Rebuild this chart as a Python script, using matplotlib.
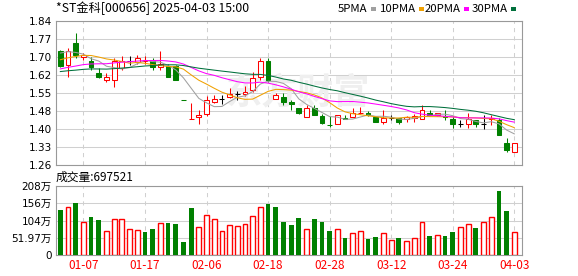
import numpy as np
import pandas as pd
import matplotlib
matplotlib.use("Agg")
import matplotlib.pyplot as plt
from matplotlib.patches import Rectangle

plt.rcParams["font.family"] = ["DejaVu Sans", "Noto Sans CJK SC"]

# trading days shown (2025)
dates = [
    "01-02", "01-03", "01-06", "01-07", "01-08", "01-09", "01-10", "01-13", "01-14", "01-15",
    "01-16", "01-17", "01-20", "01-21", "01-22", "01-23", "01-24", "01-27", "02-05", "02-06",
    "02-07", "02-10", "02-11", "02-12", "02-13", "02-14", "02-17", "02-18", "02-19", "02-20",
    "02-21", "02-24", "02-25", "02-26", "02-27", "02-28", "03-03", "03-04", "03-05", "03-06",
    "03-07", "03-10", "03-11", "03-12", "03-13", "03-14", "03-17", "03-18", "03-19", "03-20",
    "03-21", "03-24", "03-25", "03-26", "03-27", "03-28", "03-31", "04-01", "04-02", "04-03",
]
opens = [
    1.720, 1.663, 1.753, 1.697, 1.680, 1.632, 1.601, 1.602, 1.651, 1.679,
    1.674, 1.678, 1.678, 1.656, 1.657, 1.657, 1.522, 1.445, 1.453, 1.465,
    1.512, 1.525, 1.534, 1.546, 1.546, 1.561, 1.614, 1.677, 1.526, 1.532,
    1.512, 1.491, 1.453, 1.490, 1.457, 1.423, 1.425, 1.449, 1.453, 1.468,
    1.470, 1.452, 1.433, 1.449, 1.448, 1.445, 1.448, 1.445, 1.470, 1.461,
    1.457, 1.447, 1.425, 1.425, 1.443, 1.426, 1.444, 1.443, 1.348, 1.312,
]
highs = [
    1.724, 1.731, 1.792, 1.712, 1.694, 1.651, 1.630, 1.691, 1.700, 1.700,
    1.702, 1.700, 1.691, 1.720, 1.668, 1.664, 1.522, 1.511, 1.483, 1.536,
    1.543, 1.540, 1.571, 1.557, 1.580, 1.633, 1.691, 1.691, 1.550, 1.550,
    1.523, 1.491, 1.500, 1.502, 1.465, 1.456, 1.460, 1.460, 1.490, 1.495,
    1.476, 1.452, 1.483, 1.460, 1.448, 1.456, 1.465, 1.503, 1.483, 1.470,
    1.483, 1.456, 1.443, 1.469, 1.443, 1.463, 1.463, 1.449, 1.370, 1.348,
]
lows = [
    1.653, 1.614, 1.691, 1.683, 1.644, 1.612, 1.593, 1.573, 1.641, 1.661,
    1.667, 1.667, 1.644, 1.641, 1.613, 1.601, 1.521, 1.445, 1.425, 1.456,
    1.510, 1.505, 1.530, 1.523, 1.537, 1.553, 1.601, 1.596, 1.526, 1.503,
    1.483, 1.464, 1.453, 1.463, 1.425, 1.413, 1.425, 1.444, 1.453, 1.465,
    1.456, 1.433, 1.425, 1.440, 1.425, 1.432, 1.432, 1.445, 1.461, 1.457,
    1.443, 1.411, 1.413, 1.411, 1.413, 1.405, 1.421, 1.382, 1.312, 1.312,
]
closes = [
    1.660, 1.718, 1.704, 1.705, 1.653, 1.613, 1.614, 1.677, 1.678, 1.679,
    1.691, 1.682, 1.653, 1.667, 1.613, 1.601, 1.521, 1.446, 1.461, 1.523,
    1.524, 1.525, 1.545, 1.546, 1.553, 1.610, 1.677, 1.601, 1.542, 1.513,
    1.504, 1.471, 1.491, 1.463, 1.429, 1.421, 1.460, 1.447, 1.468, 1.471,
    1.461, 1.433, 1.449, 1.449, 1.434, 1.452, 1.456, 1.483, 1.461, 1.469,
    1.455, 1.425, 1.425, 1.447, 1.425, 1.426, 1.449, 1.382, 1.322, 1.348,
]
# volume, 万股
volumes = [
    135.6, 144.6, 156.7, 99.4, 114.5, 105.5, 72.3, 108.5, 108.5, 77.4,
    75.3, 69.3, 78.3, 96.4, 96.4, 93.4, 39.2, 141.6, 84.4, 120.5,
    107.5, 72.3, 90.4, 87.4, 93.4, 117.5, 144.6, 153.7, 144.6, 99.4,
    90.4, 111.5, 78.3, 108.5, 99.4, 72.3, 78.3, 51.2, 66.3, 72.3,
    48.2, 54.2, 66.3, 45.2, 51.2, 42.2, 51.2, 99.4, 57.2, 60.3,
    57.2, 69.3, 84.4, 93.4, 81.3, 99.4, 114.5, 192.8, 132.6, 69.7521,
]
# closes of the 29 sessions before 01-02, needed for the moving averages
prior_closes = [
    1.62, 1.63, 1.61, 1.60, 1.62, 1.63, 1.62, 1.61, 1.60, 1.61,
    1.59, 1.60, 1.59, 1.60, 1.60, 1.61, 1.61, 1.62, 1.64, 1.64,
    1.64, 1.65, 1.66, 1.66, 1.675, 1.69, 1.72, 1.74, 1.745,
]
ma_windows = [5, 10, 20, 30]
ma_names = ["5PMA", "10PMA", "20PMA", "30PMA"]
ma_colors = ["#a0a0a0", "#f0a000", "#ff00ff", "#00703c"]

price_ticks = np.linspace(1.26, 1.84, 9)
price_labels = ["1.26", "1.33", "1.40", "1.48", "1.55", "1.62", "1.70", "1.77", "1.84"]
vol_ticks = np.linspace(0, 207.88, 5)
vol_labels = ["0", "51.97万", "104万", "156万", "208万"]

RED = "#ff0000"
GREEN = "#008000"
GRID = "#d0d0d0"
FRAME = "#999999"

o = np.array(opens)
h = np.array(highs)
l = np.array(lows)
c = np.array(closes)
v = np.array(volumes)
x = np.arange(len(c))
up = c > o
down = c < o
flat = c == o
prev_c = np.concatenate([[prior_closes[-1]], c[:-1]])
vol_up = c >= prev_c

W, H = 578, 276
fig = plt.figure(figsize=(W / 100, H / 100), dpi=100)
ax = fig.add_axes([56 / W, 1 - 165 / H, 466 / W, 144 / H])
ax2 = fig.add_axes([56 / W, 1 - 255 / H, 466 / W, 69 / H])

# candles
wick_colors = np.where(up, RED, np.where(down, GREEN, "black"))
ax.vlines(x, l, h, colors=wick_colors, lw=0.75, zorder=3)
ax.bar(x[up], (c - o)[up], bottom=o[up], width=0.62, facecolor="white",
       edgecolor=RED, lw=0.75, zorder=4)
ax.bar(x[down], (o - c)[down], bottom=c[down], width=0.62, facecolor=GREEN,
       edgecolor=GREEN, lw=0.75, zorder=4)
ax.hlines(c[flat], x[flat] - 0.32, x[flat] + 0.32, colors="black", lw=0.75, zorder=4)

# moving averages
all_c = pd.Series(prior_closes + closes)
for w, col in zip(ma_windows, ma_colors):
    ma = all_c.rolling(w).mean().iloc[len(prior_closes):].to_numpy()
    ax.plot(x, ma, color=col, lw=0.75, zorder=5)

# watermark
ax.text(0.52, 0.5, "东方财富", transform=ax.transAxes, fontsize=26, color="#efefef",
        ha="center", va="center", weight="bold", family=["Noto Sans CJK SC"], zorder=1)

# volume
ax2.bar(x[vol_up], v[vol_up], width=0.62, facecolor="white", edgecolor=RED, lw=1.0, zorder=3)
ax2.bar(x[~vol_up], v[~vol_up], width=0.62, color=GREEN, lw=0, zorder=3)

for a in (ax, ax2):
    a.set_xlim(-0.56, 60.0)
    a.set_xticks(x[3::8])
    a.set_axisbelow(True)
    a.xaxis.grid(True, color=GRID, lw=0.75, ls=(0, (4, 4)))
    a.yaxis.grid(True, color=GRID, lw=0.75)
    a.tick_params(length=0, labelsize=7.5, pad=3)
    for s in a.spines.values():
        s.set_color(FRAME)
        s.set_linewidth(0.8)

ax.set_ylim(1.26, 1.84)
ax.set_yticks(price_ticks)
ax.set_yticklabels(price_labels)
ax.tick_params(axis="x", labelbottom=False)

ax2.set_ylim(0, 207.88)
ax2.set_yticks(vol_ticks)
ax2.set_yticklabels(vol_labels)
ax2.set_xticklabels(dates[3::8], color=RED, family=["Noto Sans CJK SC"], fontsize=8.5)

# header texts
fig.text(56 / W, 1 - 8 / H, "*ST金科[000656] 2025-04-03 15:00", fontsize=8.8,
         va="center", ha="left", family=["Noto Sans CJK SC", "DejaVu Sans"])
fig.text(56 / W, 1 - 177 / H, f"成交量:{v[-1] * 1e4:.0f}", fontsize=8.5,
         va="center", ha="left", family=["Noto Sans CJK SC", "DejaVu Sans"])

# legend: name followed by a small colour swatch
renderer = fig.canvas.get_renderer()
leg_x = [338, 380, 425, 472]
for lx, name, col in zip(leg_x, ma_names, ma_colors):
    t = fig.text(lx / W, 1 - 9 / H, name, fontsize=8.2, va="center", ha="left",
                 family=["Noto Sans CJK SC"])
    x1 = t.get_window_extent(renderer).x1
    fig.add_artist(Rectangle(((x1 + 3) / W, 1 - 10.5 / H), 5 / W, 3 / H,
                             transform=fig.transFigure, color=col, lw=0))

fig.savefig("out.png", dpi=100)
